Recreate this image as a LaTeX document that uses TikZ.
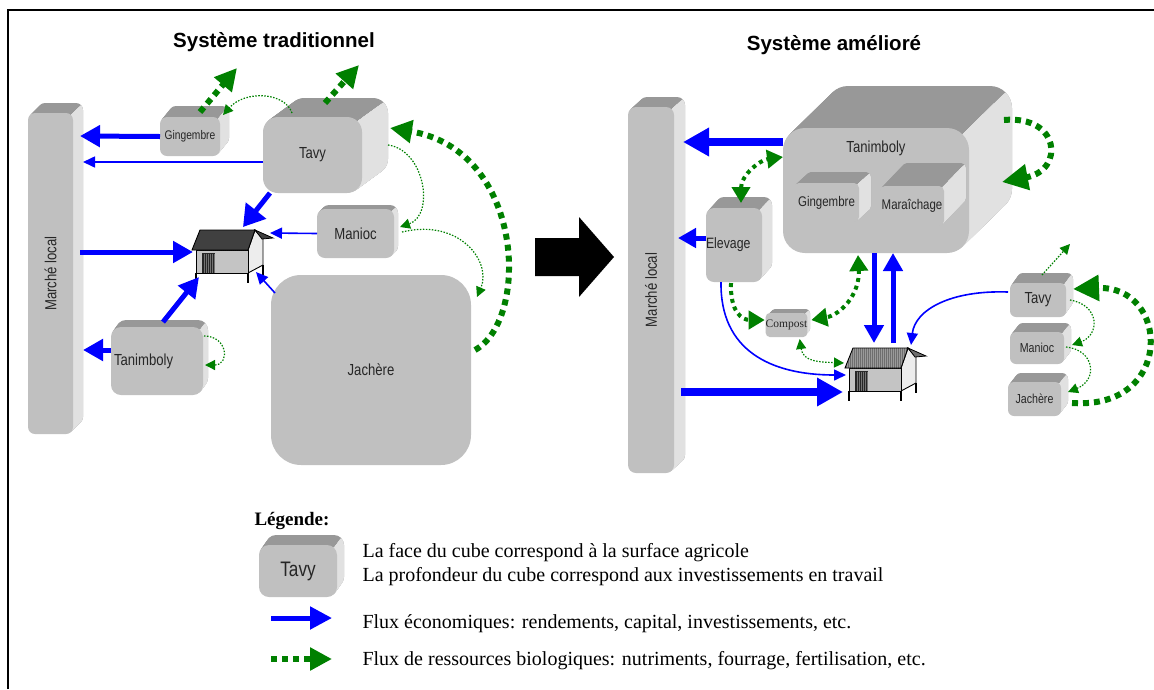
\documentclass[tikz,border=0pt]{standalone}
\usepackage{fontspec}
\setmainfont{Liberation Serif}
\newfontfamily\sans{Liberation Sans}
\newfontfamily\narrow[FakeStretch=0.82]{Liberation Sans}
\usetikzlibrary{arrows.meta,calc}

\definecolor{facegray}{HTML}{C0C0C0}
\definecolor{topgray}{HTML}{989898}
\definecolor{sidegray}{HTML}{E1E1E1}
\definecolor{labelcol}{HTML}{262626}
\definecolor{flowblue}{HTML}{0000FF}
\definecolor{bio}{HTML}{008000}
\definecolor{roofdark}{HTML}{404040}
\definecolor{roofgray}{HTML}{6E6E6E}
\definecolor{roofline}{HTML}{9A9A9A}
\definecolor{wallgray}{HTML}{C4C4C4}
\definecolor{wallside}{HTML}{EDEDED}

\tikzset{
  cubeface/.style={fill=facegray, inner sep=0pt, outer sep=0pt, text=labelcol,
    font=\narrow\fontsize{16}{18}\selectfont},
  bflow/.style={draw=flowblue, line width=5pt, -{Triangle[length=20pt,width=21pt]}},
  bbig/.style={draw=flowblue, line width=8pt, -{Triangle[length=26pt,width=27pt]}},
  bmid/.style={draw=flowblue, line width=5pt, -{Triangle[length=18pt,width=19pt]}},
  bthin/.style={draw=flowblue, line width=1.6pt, -{Triangle[length=12pt,width=11pt]}},
  gthick/.style={draw=bio, line width=6pt, dash pattern=on 6pt off 5pt, -{Triangle[length=22pt,width=22pt]}},
  gbig/.style={draw=bio, line width=6pt, dash pattern=on 6pt off 5pt, -{Triangle[length=26pt,width=25pt]}},
  gmid/.style={draw=bio, line width=4pt, dash pattern=on 4pt off 4pt, -{Triangle[length=16pt,width=18pt]}},
  gmidtwo/.style={gmid, {Triangle[length=16pt,width=18pt]}-{Triangle[length=16pt,width=18pt]}},
  gthin/.style={draw=bio, line width=1.2pt, dash pattern=on 1.5pt off 1.5pt, -{Triangle[length=10pt,width=10pt]}},
  gthintwo/.style={gthin, {Triangle[length=10pt,width=10pt]}-{Triangle[length=10pt,width=10pt]}},
  legendtext/.style={anchor=base west, font=\fontsize{20}{24}\selectfont},
}

\def\cubeparse#1,#2,#3\relax{\def\cdx{#1}\def\cdy{#2}\def\crad{#3}}

% extruded plot: name, x1, y1, x2, y2 (front face), {dx,dy,radius}, node options, label
\newcommand\cube[8]{%
  \cubeparse#6\relax
  \pgfmathtruncatemacro\cubeN{max(\cdx,\cdy)}%
  % extrusion seen from above: stacked copies of the face
  \foreach \t in {\cubeN,...,1}{%
    \fill[topgray, rounded corners=\crad pt]
      ({#2+\cdx*\t/\cubeN},{#3-\cdy*\t/\cubeN}) rectangle ({#4+\cdx*\t/\cubeN},{#5-\cdy*\t/\cubeN});
  }
  % right-hand side, lighter, below the diagonal edge from the front corner
  \pgfmathsetmacro\cpx{#4-0.29*\crad}%
  \pgfmathsetmacro\cpy{#3+0.29*\crad}%
  \begin{scope}
    \clip (\cpx,\cpy) -- ({\cpx+\cdx*10},{\cpy-\cdy*10}) -- ({#4+\cdx*10+100},{\cpy-\cdy*10})
      -- ({#4+\cdx*10+100},{#5+100}) -- ({#4-\crad},{#5+100}) -- ({#4-\crad},\cpy) -- cycle;
    \foreach \t in {\cubeN,...,1}{%
      \fill[sidegray, rounded corners=\crad pt]
        ({#2+\cdx*\t/\cubeN},{#3-\cdy*\t/\cubeN}) rectangle ({#4+\cdx*\t/\cubeN},{#5-\cdy*\t/\cubeN});
    }
  \end{scope}
  \node[cubeface, rounded corners=\crad pt, minimum width={#4-#2}, minimum height={#5-#3}, #7] (#1)
     at ({(#2+#4)/2},{(#3+#5)/2}) {#8};
}

% farm house: name, x, y of the front wall's top left corner, roof colour, roof stripes
\newcommand\hut[5]{%
  \begin{scope}[shift={(#2,#3)}]
    \fill[wallside] (52,0) -- (59,-20) -- (67,-11) -- (67,15) -- (52,23) -- cycle;
    \draw[line width=0.9pt] (52,0) -- (59,-20) -- (67,-11) -- (67,15) -- (52,23);
    \filldraw[fill=#4, line width=0.8pt] (59,-20) -- (77,-12) -- (66,-11) -- cycle;
    \fill[wallgray] (0,0) rectangle (52,23);
    \draw[line width=0.9pt] (0,0) rectangle (52,23);
    \fill[black!85] (6,3) rectangle (19,23);
    \foreach \k in {8,10,...,18} \draw[black!55, line width=0.4pt] (\k,3.5) -- (\k,23);
    \fill[#4] (-4,0) -- (4,-20) -- (59,-20) -- (52,0) -- cycle;
    \begin{scope}
      \clip (-4,0) -- (4,-20) -- (59,-20) -- (52,0) -- cycle;
      \foreach \k in {-4,-2,...,60} \draw[#5, line width=0.5pt] (\k,-21) -- (\k,1);
    \end{scope}
    \draw[line width=0.9pt] (-4,0) -- (4,-20) -- (59,-20) -- (52,0) -- cycle;
    \draw[line width=1.5pt] (0,23) -- (0,33) (52,23) -- (52,33) (67,15) -- (67,25);
  \end{scope}
  \node[inner sep=0pt, outer sep=0pt, minimum width=52pt, minimum height=23pt] (#1)
     at ({#2+26},{#3+11.5}) {};
}

\begin{document}
\begin{tikzpicture}[x=1pt,y=-1pt]
\useasboundingbox (0,0) rectangle (1154,689);

% frame
\draw[line width=1.6pt] (8,689) -- (8,10) -- (1154,10);

% titles
\node[anchor=base, font=\sans\bfseries\fontsize{20.5}{24}\selectfont] (titleL) at (274,47) {Système traditionnel};
\node[anchor=base, font=\sans\bfseries\fontsize{20.5}{24}\selectfont] (titleR) at (834,50) {Système amélioré};

% ---------- traditional system ----------
\cube{mktL}{28}{113}{73}{434}{10,10,7}{}{\rotatebox{90}{Marché local}}
\cube{gingL}{160}{117}{220}{156}{9,11,7}{font=\narrow\fontsize{12.5}{14}\selectfont}{Gingembre}
\cube{tavyL}{263}{117}{362}{193}{26,19,15}{}{Tavy}
\cube{maniocL}{317}{209}{394}{258}{4,4,8}{}{Manioc}
\cube{taniL}{111}{327}{203}{395}{5,7,10}{text width=86pt, align=left}{Tanimboly}
\node[cubeface, rounded corners=30pt, minimum width=200pt, minimum height=190pt] (jachL) at (371,370) {Jachère};
\hut{houseL}{196}{250}{roofdark}{roofdark}

% economic flows
\draw[bflow] (gingL.west) -- ($(mktL.north east)+(7,23)$);
\draw[bthin] ($(tavyL.north west)+(0,45)$) -- ($(mktL.north east)+(10,49)$);
\draw[bflow, -{Triangle[length=21pt,width=25pt]}] ($(tavyL.south west)+(7,0)$) -- ($(houseL.north west)+(47,-23)$);
\draw[bthin] (maniocL.west) -- ($(houseL.north west)+(74,-17)$);
\draw[bflow] ($(mktL.north east)+(7,139)$) -- ($(houseL.north west)+(-3,2)$);
\draw[bflow] ($(taniL.north west)+(52,-5)$) -- ($(houseL.north west)+(3,27)$);
\draw[bflow] ($(taniL.north west)+(0,23)$) -- ($(mktL.north east)+(10,237)$);
\draw[bthin] ($(jachL.north west)+(4,18)$) -- ($(houseL.north west)+(60,22)$);

% biological flows
\coordinate (gingOut) at (237,68);
\coordinate (tavyOut) at (359,65);
\draw[gthick] ($(gingL.north west)+(40,-5)$) -- (gingOut);
\draw[gthick] ($(tavyL.north west)+(62,-14)$) -- (tavyOut);
\draw[gthin] ($(tavyL.north west)+(29,-4)$) .. controls (285,92) and (245,90) .. ($(gingL.north west)+(63,-2)$);
\draw[gthin] ($(tavyL.north east)+(26,28)$) .. controls (425,150) and (435,215) .. ($(maniocL.north east)+(6,18)$);
\draw[gthin] ($(maniocL.north east)+(8,23)$) .. controls (460,218) and (492,262) .. ($(jachL.north east)+(6,22)$);
\draw[gthick] ($(jachL.north east)+(4,75)$) .. controls (530,320) and (525,150) .. ($(tavyL.north east)+(28,11)$);
\draw[gthin] ($(taniL.north east)+(1,9)$) .. controls (228,336) and (230,365) .. ($(taniL.north east)+(2,38)$);

% transition arrow
\fill (535,238) -- (579,238) -- (579,217) -- (614,257) -- (579,297) -- (579,276) -- (535,276) -- cycle;

% ---------- improved system ----------
\cube{mktR}{628}{107}{674}{473}{11,10,8}{}{\rotatebox{90}{Marché local}}
\cube{taniR}{783}{128}{969}{253}{43,42,22}{%
   label={[font=\narrow\fontsize{16}{18}\selectfont, text=labelcol, yshift=42pt]center:Tanimboly}}{}
\cube{gingR}{794}{183}{859}{222}{12,11,5}{font=\narrow\fontsize{14}{16}\selectfont}{Gingembre}
\cube{maraR}{880}{186}{944}{226}{22,23,5}{font=\narrow\fontsize{14}{16}\selectfont}{Maraîchage}
\cube{elevR}{706}{208}{762}{282}{10,11,8}{font=\narrow\fontsize{15}{17}\selectfont, text width=56pt, align=left}{Elevage}
\cube{compR}{767}{313}{806}{337}{4,4,4}{font=\rmfamily\fontsize{11.5}{13}\selectfont}{Compost}
\cube{tavyR}{1010}{283}{1066}{317}{7,10,6}{}{Tavy}
\cube{maniocR}{1010}{332}{1064}{364}{7,9,6}{font=\narrow\fontsize{13}{15}\selectfont}{Manioc}
\cube{jachR}{1008}{382}{1061}{416}{7,9,6}{font=\narrow\fontsize{13}{15}\selectfont}{Jachère}
\hut{houseR}{849}{368}{roofgray}{roofline}

% economic flows
\draw[bbig] ($(taniR.north west)+(0,14)$) -- ($(mktR.north east)+(9,35)$);
\draw[bmid] ($(elevR.north west)+(0,30)$) -- ($(mktR.north east)+(4,131)$);
\draw[bmid] ($(taniR.south west)+(91,0)$) -- ($(houseR.north west)+(25,-25)$);
\draw[bmid] ($(houseR.north west)+(44,-25)$) -- ($(taniR.south west)+(110,0)$);
\draw[bthin] ($(elevR.south west)+(15,0)$) .. controls (720,350) and (770,375) .. ($(houseR.north west)+(-3,7)$);
\draw[bbig] ($(mktR.north east)+(7,285)$) -- ($(houseR.north west)+(-6,24)$);
\draw[bthin] ($(tavyR.north west)+(-2,9)$) .. controls (950,290) and (915,310) .. ($(houseR.north west)+(62,-23)$);

% biological flows
\coordinate (tavyROut) at (1070,244);
\draw[gmidtwo] ($(elevR.north west)+(35,-5)$) .. controls (741,175) and (760,160) .. ($(taniR.north west)+(0,29)$);
\draw[gbig] ($(taniR.north east)+(35,-8)$) .. controls (1060,115) and (1065,170) .. ($(taniR.north east)+(33,54)$);
\draw[gmidtwo] ($(taniR.south west)+(75,2)$) .. controls (860,295) and (840,315) .. ($(compR.north east)+(4,7)$);
\draw[gmid] ($(elevR.south west)+(25,1)$) .. controls (730,312) and (742,320) .. ($(compR.north west)+(-1,7)$);
\draw[gthintwo] ($(compR.south west)+(34,2)$) .. controls (803,362) and (820,362) .. ($(houseR.north west)+(-5,-5)$);
\draw[gthin] ($(tavyR.north west)+(32,-8)$) -- (tavyROut);
\draw[gthin] ($(tavyR.north east)+(4,17)$) .. controls (1100,305) and (1100,335) .. ($(maniocR.north east)+(8,13)$);
\draw[gthin] ($(maniocR.north east)+(2,15)$) .. controls (1095,350) and (1098,380) .. ($(jachR.north east)+(7,10)$);
\draw[gbig] ($(jachR.north east)+(11,21)$) .. controls (1175,410) and (1170,285) .. ($(tavyR.north east)+(7,6)$);

% ---------- legend ----------
\node[anchor=base west, font=\fontsize{19}{22}\selectfont] (legTitle) at (251,525) {\bfseries Légende:};
\cube{legCube}{259}{545}{337}{597}{7,10,10}{font=\narrow\fontsize{21}{24}\selectfont}{Tavy}
\node[legendtext] (legA) at (359,557) {La face du cube correspond à la surface agricole};
\node[legendtext] (legB) at (359,581) {La profondeur du cube correspond aux investissements en travail};
\coordinate (lb1) at (271,618);
\coordinate (lb2) at (332,618);
\draw[bflow, -{Triangle[length=22pt,width=22pt]}] (lb1) -- (lb2);
\node[legendtext] (legC) at (359,628) {Flux économiques: rendements, capital, investissements, etc.};
\coordinate (lg1) at (271,659);
\coordinate (lg2) at (332,659);
\draw[gthick] (lg1) -- (lg2);
\node[legendtext] (legD) at (359,665) {Flux de ressources biologiques: nutriments, fourrage, fertilisation, etc.};

\end{tikzpicture}
\end{document}
